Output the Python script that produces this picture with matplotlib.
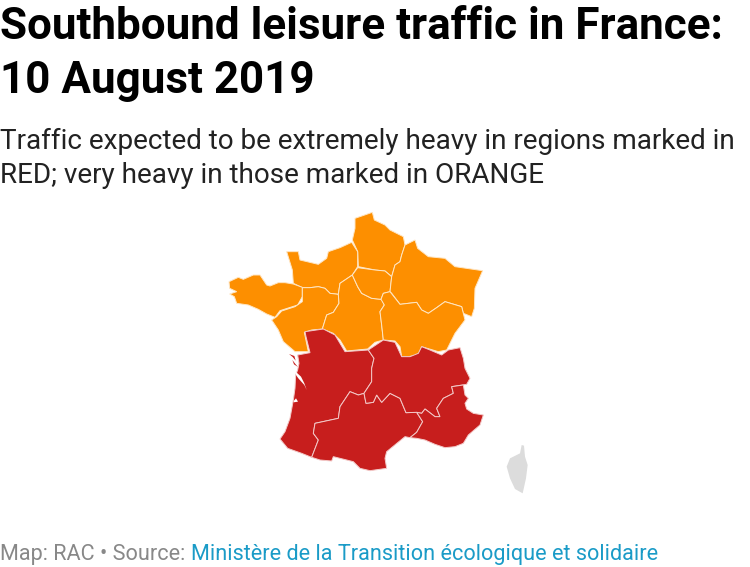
import matplotlib
matplotlib.use("Agg")
import matplotlib.pyplot as plt
from matplotlib.patches import Polygon

plt.rcParams['font.family'] = ['Roboto', 'DejaVu Sans']

ORANGE = "#fd8f00"
RED = "#c71e1d"
GREY = "#dcdcdc"

title_lines = ["Southbound leisure traffic in France:", "10 August 2019"]
subtitle_lines = ["Traffic expected to be extremely heavy in regions marked in",
                  "RED; very heavy in those marked in ORANGE"]
footer_left = "Map: RAC \u2022 Source: "
footer_link = "Minist\u00e8re de la Transition \u00e9cologique et solidaire"

# outlines, north part (orange regions)
hauts_de_france = [(420,40),(472,22),(478,45),(510,60),(525,75),(565,95),(570,120),(560,150),(555,170),(540,180),
                   (530,215),(510,198),(480,195),(430,185),(428,140),(412,105),(420,70)]
normandie = [(215,140),(250,140),(255,165),(310,178),(335,160),(340,140),(375,128),(410,112),(428,140),(428,185),
             (412,210),(375,235),(370,268),(345,265),(330,250),(310,245),(285,248),(262,248),(235,235),(232,195)]
bretagne = [(42,230),(70,217),(85,223),(115,210),(135,210),(155,240),(165,243),(190,233),(210,233),(235,237),
            (262,247),(262,275),(248,300),(195,317),(180,337),(155,327),(130,313),(100,300),(65,295),(58,275),
            (44,267),(65,260),(44,250)]
pays_de_la_loire = [(262,248),(285,248),(310,245),(330,250),(345,265),(370,268),(372,295),(355,322),(335,330),
                    (322,372),(290,375),(268,382),(280,440),(240,440),(205,410),(190,375),(170,345),(185,335),
                    (200,318),(240,305),(262,290)]
centre = [(412,210),(428,245),(440,265),(470,280),(500,283),(508,300),(495,320),(500,360),(505,405),(480,412),
          (458,432),(395,438),(375,405),(355,385),(322,372),(335,330),(355,322),(372,295),(370,268),(375,235)]
ile_de_france = [(428,188),(480,195),(510,198),(530,215),(525,260),(505,265),(498,283),(470,280),(440,265),
                 (428,245),(412,210)]
grand_est = [(570,120),(600,105),(608,130),(640,155),(690,160),(720,185),(803,197),(780,250),(778,310),(770,335),
             (745,325),(740,305),(690,290),(665,308),(640,325),(620,315),(605,292),(555,298),(530,265),(525,260),
             (530,215),(540,180),(555,170),(560,150)]
bourgogne = [(505,265),(525,260),(555,298),(605,292),(620,315),(640,325),(665,308),(690,290),(740,305),(745,325),
             (750,345),(720,385),(695,435),(670,440),(620,425),(610,450),(580,455),(560,455),(555,425),(540,408),
             (505,405),(500,360),(495,320),(508,300),(498,283)]

# south part (red regions + Corsica)
aquitaine = [(105,20),(160,12),(195,30),(225,80),(295,75),(312,100),(305,130),(305,170),(282,205),(265,210),(240,200),
             (210,245),(205,280),(135,295),(130,325),(145,345),(125,397),(95,385),(53,370),(30,342),(45,320),
             (60,280),(70,225),(75,190),(77,150),(83,135),(87,115),(83,90),(120,83),(108,35)]
occitanie = [(240,200),(265,210),(282,205),(288,235),(310,232),(320,210),(335,232),(360,205),(390,220),(408,263),
             (440,262),(458,290),(440,322),(420,338),(405,335),(350,380),(345,400),(350,430),(300,437),(270,430),
             (250,410),(190,395),(185,408),(150,405),(125,397),(145,345),(130,325),(135,295),(205,280),(210,245)]
rhone_alpes = [(295,75),(340,45),(375,52),(395,95),(420,95),(445,85),(455,65),(480,75),(515,90),(535,75),(570,68),
               (580,100),(585,130),(600,160),(590,178),(545,185),(550,205),(520,220),(500,250),(510,275),(495,275),
               (465,252),(455,265),(440,262),(408,263),(390,220),(360,205),(335,232),(320,210),(310,232),(288,235),
               (282,205),(305,170),(305,130),(312,100)]
paca = [(545,185),(580,180),(585,210),(595,220),(585,235),(590,252),(610,265),(640,270),(630,300),(595,330),(580,355),
        (555,365),(525,368),(495,358),(465,345),(440,340),(420,338),(440,322),(458,290),(440,262),(455,265),(465,252),
        (495,275),(510,275),(500,250),(520,220),(550,205)]
gironde = [(77,140),(93,155),(103,175),(110,195),(103,180),(85,160),(78,150)]
arcachon = [(71,228),(78,220),(84,230),(71,232)]
oleron = [(57,87),(73,93),(77,107),(68,96)]
oleron_south = [(67,105),(77,118),(84,126),(72,118)]
corse = [(755,360),(762,362),(765,395),(773,420),(768,460),(758,505),(735,492),(720,460),(710,425),(720,400),(750,385)]


def from_north(pts):
    return [(215 + x / 3, 205 + y / 3) for x, y in pts]


def from_south(pts):
    return [(270 + x / 3, 325 + y / 3) for x, y in pts]


fig = plt.figure(figsize=(7.5, 5.67), dpi=100)
ax = fig.add_axes([0, 0, 1, 1])
ax.set_xlim(0, 750)
ax.set_ylim(567, 0)
ax.axis("off")

for reg in [hauts_de_france, normandie, bretagne, pays_de_la_loire, centre, ile_de_france, grand_est, bourgogne]:
    ax.add_patch(Polygon(from_north(reg), closed=True, facecolor=ORANGE, edgecolor="#ffe6c4", lw=0.7))
for reg in [aquitaine, occitanie, rhone_alpes, paca]:
    ax.add_patch(Polygon(from_south(reg), closed=True, facecolor=RED, edgecolor="#f3c9c8", lw=0.7))
for reg in [gironde, arcachon]:
    ax.add_patch(Polygon(from_south(reg), closed=True, facecolor="white", edgecolor="none"))
for reg in [oleron, oleron_south]:
    ax.add_patch(Polygon(from_south(reg), closed=True, facecolor=RED, edgecolor="none"))
ax.add_patch(Polygon(from_south(corse), closed=True, facecolor=GREY, edgecolor="none"))

for txt, y in zip(title_lines, [39, 93]):
    ax.text(0, y, txt, fontsize=31.7, fontweight="bold", color="black", va="baseline")
for txt, y in zip(subtitle_lines, [149, 183]):
    ax.text(0, y, txt, fontsize=20.12, color="#222222", va="baseline")

ax.text(0, 560, footer_left, fontsize=15.6, color="#888888", va="baseline")
ax.text(191, 560, footer_link, fontsize=15.6, color="#1a9bc7", va="baseline")

fig.savefig("out.png", dpi=100)
